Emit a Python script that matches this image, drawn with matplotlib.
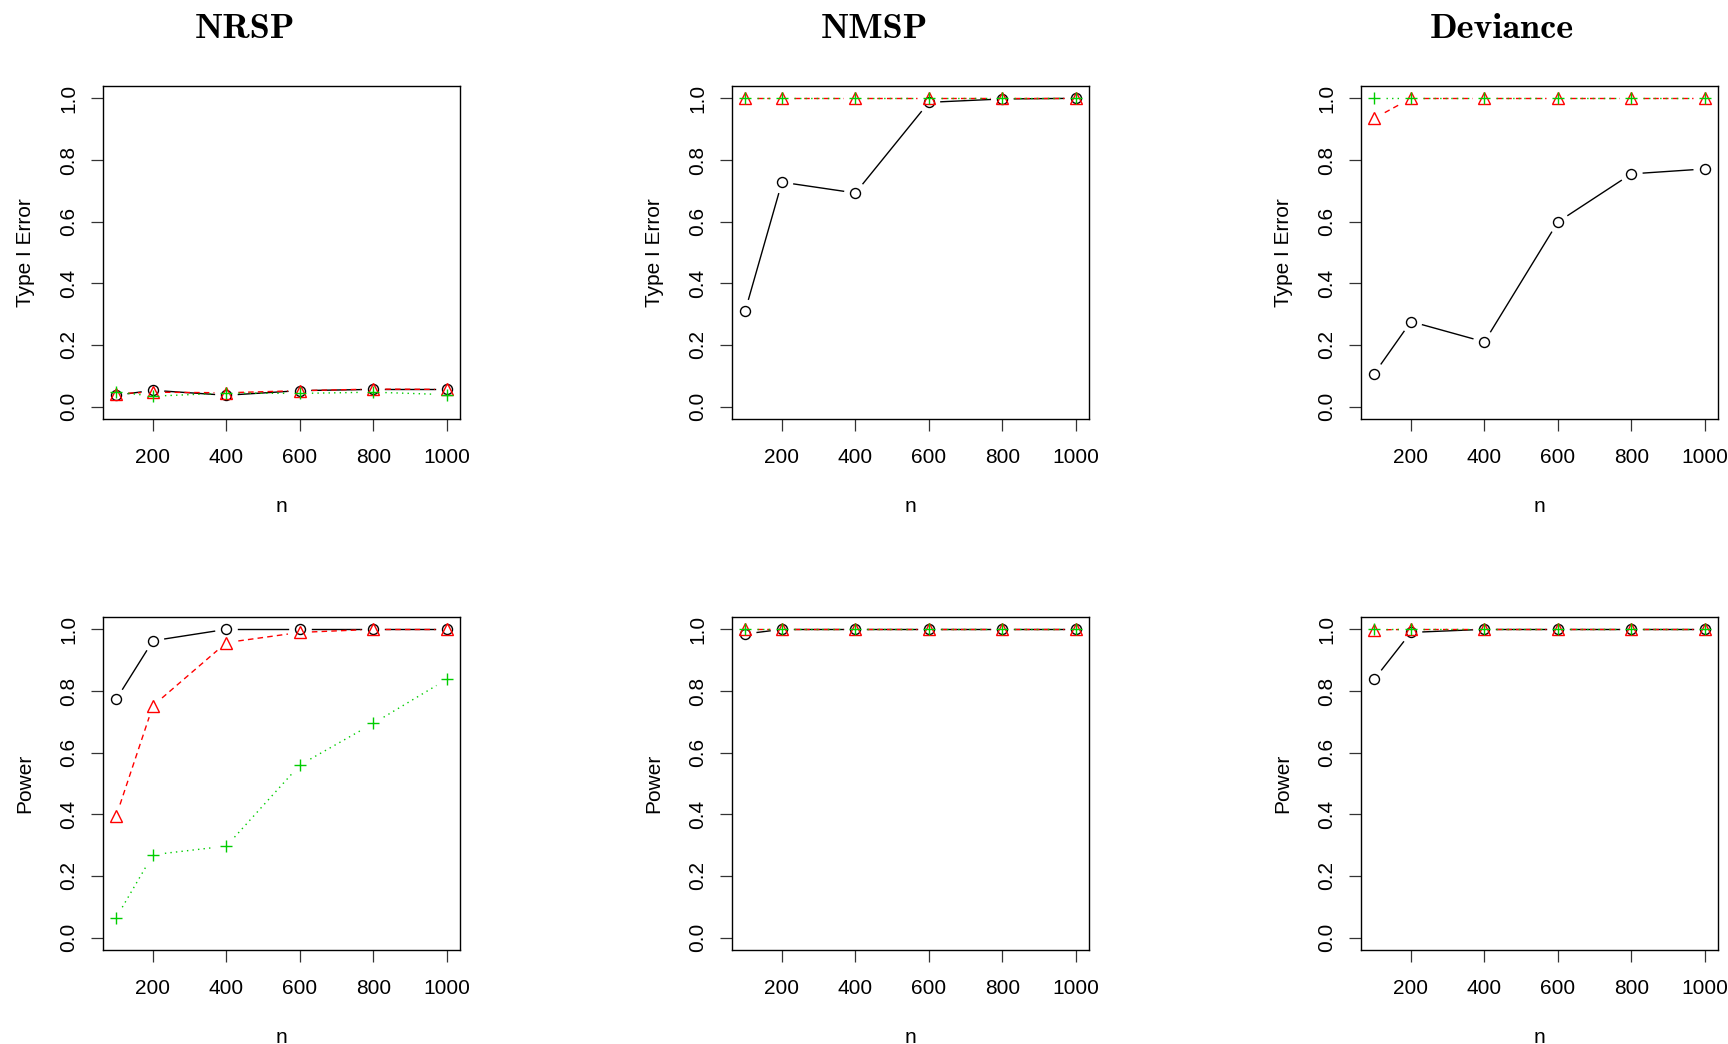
import matplotlib
matplotlib.use("Agg")
import matplotlib.pyplot as plt
import numpy as np

plt.rcParams["font.family"] = ["Liberation Sans", "DejaVu Sans"]

n = [100, 200, 400, 600, 800, 1000]
methods = ["NRSP", "NMSP", "Deviance"]
row_labels = ["Type I Error", "Power"]
x_ticks = [200, 400, 600, 800, 1000]
y_ticks = [0.0, 0.2, 0.4, 0.6, 0.8, 1.0]

# type I error, three settings per method (black / red / green)
nrsp_err_a = [0.037, 0.053, 0.037, 0.052, 0.056, 0.056]
nrsp_err_b = [0.042, 0.047, 0.045, 0.052, 0.057, 0.056]
nrsp_err_c = [0.048, 0.034, 0.044, 0.043, 0.047, 0.039]
nmsp_err_a = [0.311, 0.728, 0.693, 0.987, 0.998, 1.0]
nmsp_err_b = [1.0, 1.0, 1.0, 1.0, 1.0, 1.0]
nmsp_err_c = [1.0, 1.0, 1.0, 1.0, 1.0, 1.0]
dev_err_a = [0.107, 0.276, 0.210, 0.599, 0.755, 0.771]
dev_err_b = [0.935, 1.0, 1.0, 1.0, 1.0, 1.0]
dev_err_c = [1.0, 1.0, 1.0, 1.0, 1.0, 1.0]

# power
nrsp_pow_a = [0.773, 0.963, 1.0, 1.0, 1.0, 1.0]
nrsp_pow_b = [0.395, 0.752, 0.957, 0.99, 1.0, 1.0]
nrsp_pow_c = [0.065, 0.269, 0.297, 0.560, 0.695, 0.838]
nmsp_pow_a = [0.985, 1.0, 1.0, 1.0, 1.0, 1.0]
nmsp_pow_b = [1.0, 1.0, 1.0, 1.0, 1.0, 1.0]
nmsp_pow_c = [1.0, 1.0, 1.0, 1.0, 1.0, 1.0]
dev_pow_a = [0.838, 0.99, 1.0, 1.0, 1.0, 1.0]
dev_pow_b = [0.998, 1.0, 1.0, 1.0, 1.0, 1.0]
dev_pow_c = [1.0, 1.0, 1.0, 1.0, 1.0, 1.0]

panels = [
    [(nrsp_err_a, nrsp_err_b, nrsp_err_c),
     (nmsp_err_a, nmsp_err_b, nmsp_err_c),
     (dev_err_a, dev_err_b, dev_err_c)],
    [(nrsp_pow_a, nrsp_pow_b, nrsp_pow_c),
     (nmsp_pow_a, nmsp_pow_b, nmsp_pow_c),
     (dev_pow_a, dev_pow_b, dev_pow_c)],
]

styles = [
    dict(color="black", dashes=(), marker="o", ms=7.2),
    dict(color="#FF0000", dashes=(4, 3), marker="^", ms=9.0),
    dict(color="#00CD00", dashes=(1, 3), marker="+", ms=9.0),
]

W, H = 1728, 1044
fig = plt.figure(figsize=(W / 100, H / 100), dpi=100)

col_left = [103, 732, 1361]
row_top = [86, 617]
ax_w, ax_h = 357, 333


def type_b(ax, x, y, color, dashes, marker, ms, gap=12):
    # lines broken around each point, like R's type = "b"
    pts = ax.transData.transform(np.column_stack([x, y]))
    inv = ax.transData.inverted()
    for p, q in zip(pts[:-1], pts[1:]):
        d = q - p
        L = np.hypot(*d)
        if L <= 2 * gap:
            continue
        u = d / L
        a, b = inv.transform([p + gap * u, q - gap * u])
        line, = ax.plot([a[0], b[0]], [a[1], b[1]], color=color, lw=1.0)
        if dashes:
            line.set_dashes(dashes)
    ax.plot(x, y, ls="none", marker=marker, ms=ms, mfc="none",
            mec=color, mew=1.0)


for r in range(2):
    for c in range(3):
        left = col_left[c] / W
        bottom = (H - row_top[r] - ax_h) / H
        ax = fig.add_axes([left, bottom, ax_w / W, ax_h / H])
        ax.set_xlim(64, 1036)
        ax.set_ylim(-0.04, 1.04)
        for vals, st in zip(panels[r][c], styles):
            type_b(ax, n, vals, st["color"], st["dashes"], st["marker"], st["ms"])
        ax.set_xticks(x_ticks)
        ax.set_xticklabels([str(t) for t in x_ticks])
        ax.set_yticks(y_ticks)
        ax.set_yticklabels([f"{t:.1f}" for t in y_ticks], rotation=90, va="center")
        ax.tick_params(length=8.6, width=0.9, labelsize=15, color="#333333")
        ax.tick_params(axis="x", pad=12)
        ax.tick_params(axis="y", pad=9)
        for sp in ax.spines.values():
            sp.set_linewidth(1.0)
        ax.set_xlabel("n", fontsize=15, labelpad=22)
        ax.set_ylabel(row_labels[r], fontsize=15, labelpad=18)

title_x = [245, 874, 1502]
for name, tx in zip(methods, title_x):
    fig.text(tx / W, 1 - 29 / H, name, ha="center", va="center",
             family="cmb10", fontsize=26)

fig.savefig("out.png", dpi=100)
